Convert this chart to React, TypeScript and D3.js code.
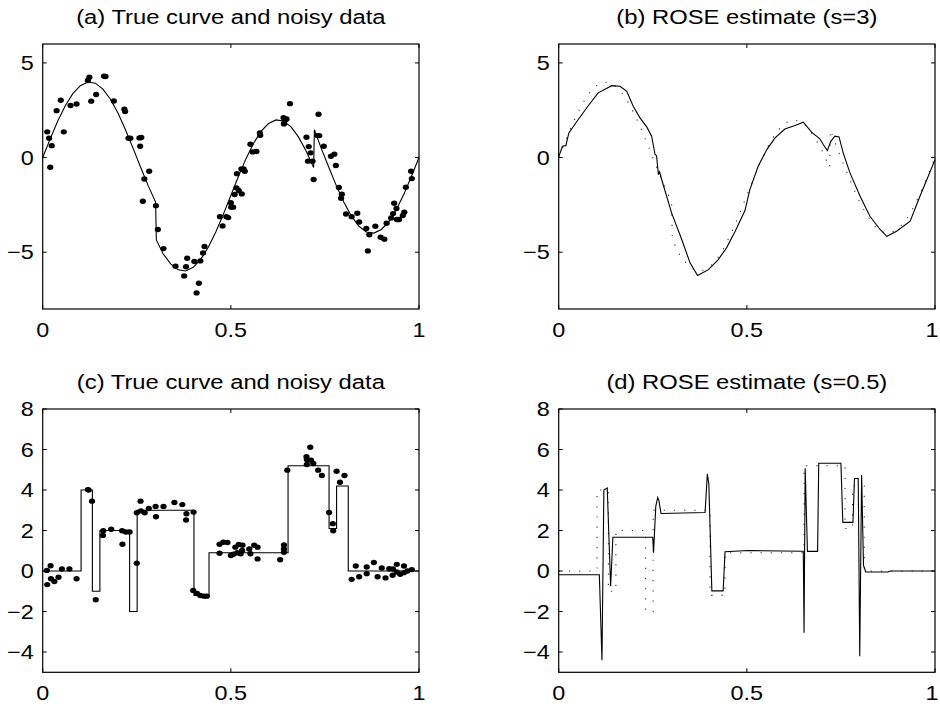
import React from "react";
import * as d3 from "d3";

// true curve (heavisine-like)
const trueAX = [0, 0.02, 0.04, 0.06, 0.08, 0.1, 0.12, 0.14, 0.16, 0.18, 0.2, 0.22, 0.24, 0.26, 0.28, 0.3, 0.302, 0.32, 0.34, 0.36, 0.38, 0.4, 0.42, 0.44, 0.46, 0.48, 0.5, 0.52, 0.54, 0.56, 0.58, 0.6, 0.62, 0.64, 0.66, 0.68, 0.7, 0.72, 0.722, 0.74, 0.76, 0.78, 0.8, 0.82, 0.84, 0.86, 0.88, 0.9, 0.92, 0.94, 0.96, 0.98, 1];
const trueAY = [0, 0.99, 1.93, 2.74, 3.38, 3.8, 3.99, 3.93, 3.62, 3.08, 2.35, 1.47, 0.5, -0.5, -1.47, -2.35, -4.35, -5.08, -5.62, -5.93, -5.99, -5.8, -5.38, -4.74, -3.93, -3.0, -2.0, -1.0, -0.07, 0.74, 1.38, 1.8, 1.99, 1.93, 1.62, 1.08, 0.35, -0.53, 1.47, 0.5, -0.5, -1.47, -2.35, -3.08, -3.62, -3.93, -3.99, -3.8, -3.38, -2.74, -1.93, -0.99, 0];

// noisy data, panel (a)
const noisyAX = [0.012, 0.017, 0.024, 0.020, 0.037, 0.048, 0.056, 0.074, 0.090, 0.124, 0.120, 0.129, 0.142, 0.163, 0.167, 0.189, 0.217, 0.219, 0.228, 0.233, 0.257, 0.262, 0.259, 0.270, 0.283, 0.266, 0.301, 0.306, 0.321, 0.353, 0.376, 0.381, 0.384, 0.403, 0.409, 0.415, 0.419, 0.426, 0.430, 0.471, 0.478, 0.488, 0.493, 0.500, 0.501, 0.506, 0.510, 0.516, 0.515, 0.521, 0.529, 0.528, 0.534, 0.537, 0.552, 0.558, 0.568, 0.577, 0.578, 0.640, 0.643, 0.641, 0.648, 0.657, 0.701, 0.707, 0.712, 0.705, 0.717, 0.720, 0.730, 0.733, 0.735, 0.747, 0.766, 0.775, 0.779, 0.787, 0.795, 0.793, 0.806, 0.821, 0.836, 0.841, 0.860, 0.868, 0.884, 0.864, 0.898, 0.908, 0.914, 0.926, 0.934, 0.940, 0.931, 0.941, 0.947, 0.957, 0.961, 0.965, 0.979, 0.981];
const noisyAY = [1.36, 1.02, 0.63, -0.51, 2.48, 3.03, 1.36, 2.75, 2.83, 4.24, 4.07, 2.98, 3.33, 4.30, 4.28, 2.99, 2.55, 2.43, 1.02, 1.02, 1.04, 1.06, 0.60, -1.13, -0.72, -2.31, -2.54, -3.80, -4.81, -5.74, -6.25, -5.77, -5.32, -5.49, -7.15, -6.64, -5.46, -5.04, -4.70, -3.12, -3.61, -3.12, -3.17, -2.39, -2.62, -2.62, -1.95, -0.85, -1.60, -1.74, -1.92, -0.60, -0.60, -0.72, 0.70, 0.30, 0.32, 1.30, 1.18, 2.11, 1.94, 1.78, 2.04, 2.85, 1.07, 0.58, 0.25, -0.19, -0.19, -1.16, 1.16, 2.29, 1.16, 0.60, 0.07, 0.18, -0.42, -1.58, -1.94, -2.15, -2.98, -3.12, -2.94, -3.40, -3.75, -4.08, -3.63, -4.93, -4.21, -4.31, -3.47, -3.19, -2.41, -2.69, -2.96, -3.27, -3.27, -3.06, -2.89, -1.57, -0.72, -1.11];

// ROSE estimate s=3, panel (b)
const roseBX = [0, 0.01, 0.019, 0.027, 0.052, 0.079, 0.105, 0.141, 0.163, 0.181, 0.198, 0.216, 0.234, 0.247, 0.256, 0.260, 0.265, 0.268, 0.275, 0.300, 0.327, 0.349, 0.369, 0.398, 0.424, 0.446, 0.469, 0.495, 0.508, 0.530, 0.553, 0.575, 0.601, 0.628, 0.650, 0.672, 0.694, 0.703, 0.714, 0.723, 0.734, 0.745, 0.756, 0.774, 0.801, 0.827, 0.854, 0.872, 0.898, 0.934, 0.960, 0.982, 1];
const roseBY = [0.04, 0.6, 0.63, 1.3, 2.01, 2.75, 3.42, 3.8, 3.77, 3.5, 2.71, 2.1, 1.62, 1.13, 0.16, 0.1, -0.9, -0.75, -1.25, -2.92, -4.33, -5.56, -6.23, -5.92, -5.39, -4.77, -3.89, -2.8, -1.69, -0.46, 0.42, 1.04, 1.51, 1.69, 1.87, 1.34, 0.99, 0.69, 0.37, 0.86, 1.13, 1.09, 0.25, -0.81, -2.04, -3.1, -3.8, -4.16, -3.89, -3.36, -2.04, -0.99, -0.11];

// true curve (blocks-like), panels (c) and (d)
const blockEdges = [0, 0.102, 0.132, 0.152, 0.231, 0.251, 0.402, 0.442, 0.652, 0.761, 0.781, 0.812, 1];
const blockLevels = [0, 4, -1, 2, -2, 3, -1.2, 0.9, 5.2, 2.1, 4.2, 0, 0];

// noisy data, panel (c)
const noisyCX = [0.011, 0.012, 0.021, 0.022, 0.031, 0.042, 0.051, 0.071, 0.090, 0.120, 0.122, 0.131, 0.141, 0.161, 0.160, 0.182, 0.211, 0.212, 0.221, 0.231, 0.250, 0.250, 0.260, 0.261, 0.271, 0.282, 0.300, 0.301, 0.321, 0.350, 0.371, 0.382, 0.381, 0.401, 0.400, 0.410, 0.419, 0.429, 0.436, 0.470, 0.470, 0.480, 0.491, 0.500, 0.507, 0.512, 0.517, 0.521, 0.531, 0.530, 0.526, 0.549, 0.552, 0.562, 0.571, 0.571, 0.631, 0.641, 0.641, 0.641, 0.650, 0.701, 0.702, 0.711, 0.713, 0.719, 0.702, 0.732, 0.742, 0.761, 0.771, 0.772, 0.781, 0.790, 0.802, 0.821, 0.832, 0.841, 0.861, 0.861, 0.880, 0.890, 0.901, 0.911, 0.921, 0.930, 0.931, 0.941, 0.941, 0.950, 0.960, 0.960, 0.969, 0.981];
const noisyCY = [0.03, -0.67, 0.26, -0.38, -0.52, -0.31, 0.10, 0.10, -0.38, 4.02, 4.0, 3.45, -1.42, 1.99, 1.76, 2.06, 1.99, 1.32, 1.93, 1.93, 0.39, 2.88, 3.45, 2.97, 2.88, 3.09, 3.19, 2.68, 3.19, 3.38, 3.28, 2.83, 2.52, 2.91, -0.96, -1.11, -1.21, -1.24, -1.24, 1.32, 0.88, 1.42, 1.41, 0.77, 0.83, 1.18, 0.90, 1.31, 1.27, 1.01, 0.85, 1.09, 0.85, 1.27, 1.18, 0.60, 0.56, 1.29, 1.09, 0.93, 4.98, 5.64, 5.51, 6.11, 5.47, 5.31, 5.26, 4.98, 4.72, 2.89, 2.34, 1.99, 4.93, 4.38, 4.72, -0.41, 0.25, -0.28, 0.20, -0.13, 0.42, -0.28, 0.15, -0.34, 0.11, -0.21, 0.10, 0.33, -0.05, -0.16, 0.25, -0.08, 0.0, 0.07];

// ROSE estimate s=0.5, panel (d)
const roseDX = [0, 0.108, 0.115, 0.120, 0.129, 0.138, 0.144, 0.250, 0.252, 0.258, 0.263, 0.266, 0.272, 0.389, 0.395, 0.399, 0.407, 0.437, 0.442, 0.504, 0.650, 0.652, 0.655, 0.661, 0.688, 0.691, 0.750, 0.755, 0.782, 0.786, 0.796, 0.800, 0.805, 0.810, 0.816, 0.874, 0.882, 1];
const roseDY = [-0.18, -0.18, -4.41, 4.0, 4.1, -0.75, 1.67, 1.67, 0.9, 3.2, 3.63, 3.5, 2.84, 2.89, 4.8, 4.3, -0.98, -0.98, 0.95, 1.01, 0.98, -3.05, 5.08, 0.97, 0.97, 5.32, 5.32, 2.4, 2.4, 4.57, 4.57, -4.21, 4.74, 0.28, -0.05, -0.05, 0, 0];

const topTicks = [-5, 0, 5];
const bottomTicks = [-4, -2, 0, 2, 4, 6, 8];
const xTicks = [0, 0.5, 1];

const W = 940;
const H = 707;
const FONT = "'Liberation Sans', Arial, Helvetica, sans-serif";
const SX = 1.17; // the reference text is a bit wider than Arial
const SX_TITLE = 1.19;
const TICK = 4;

type Series = { xs: number[]; ys: number[]; dotted?: boolean; step?: boolean };

const Panel = ({ title, box, yDomain, yTicks, lines, dots }: any) => {
  const x = d3.scaleLinear().domain([0, 1]).range([box.left, box.right]);
  const y = d3.scaleLinear().domain(yDomain).range([box.bottom, box.top]);

  const path = (s: Series) =>
    d3
      .line<number>()
      .x((_, i) => x(s.xs[i]))
      .y((d) => y(d))
      .curve(s.step ? d3.curveStepAfter : d3.curveLinear)(s.ys) || "";

  const cx = (box.left + box.right) / 2;

  return (
    <g>
      <text
        transform={`translate(${cx},${box.top - 20}) scale(${SX_TITLE},1)`}
        textAnchor="middle"
        fontSize={20}
        fontFamily={FONT}
      >
        {title}
      </text>

      {lines.map((s: Series, i: number) => (
        <path
          key={i}
          d={path(s)}
          fill="none"
          stroke={s.dotted ? "#333" : "#000"}
          strokeWidth={1.1}
          strokeDasharray={s.dotted ? "1.2 9" : undefined}
        />
      ))}

      {dots &&
        dots.xs.map((v: number, i: number) => (
          <ellipse key={i} cx={x(v)} cy={y(dots.ys[i])} rx={3.1} ry={2.7} fill="#000" />
        ))}

      <rect
        x={box.left}
        y={box.top}
        width={box.right - box.left}
        height={box.bottom - box.top}
        fill="none"
        stroke="#000"
        strokeWidth={1.2}
      />

      {xTicks.map((t) => (
        <g key={"x" + t}>
          <line x1={x(t)} x2={x(t)} y1={box.bottom} y2={box.bottom - TICK} stroke="#000" />
          <line x1={x(t)} x2={x(t)} y1={box.top} y2={box.top + TICK} stroke="#000" />
          <text
            transform={`translate(${Math.min(x(t), W - 8)},${box.bottom + 28}) scale(${SX},1)`}
            textAnchor="middle"
            fontSize={20}
            fontFamily={FONT}
          >
            {d3.format("~g")(t)}
          </text>
        </g>
      ))}

      {yTicks.map((t: number) => (
        <g key={"y" + t}>
          <line x1={box.left} x2={box.left + TICK} y1={y(t)} y2={y(t)} stroke="#000" />
          <line x1={box.right} x2={box.right - TICK} y1={y(t)} y2={y(t)} stroke="#000" />
          <text
            transform={`translate(${box.left - 9},${y(t) + 7}) scale(${SX},1)`}
            textAnchor="end"
            fontSize={20}
            fontFamily={FONT}
          >
            {t < 0 ? "\u2212" + Math.abs(t) : String(t)}
          </text>
        </g>
      ))}
    </g>
  );
};

export default function App() {
  const boxA = { left: 42.7, right: 419, top: 44, bottom: 309 };
  const boxB = { left: 558.7, right: 935, top: 44, bottom: 309 };
  const boxC = { left: 42.7, right: 419, top: 409, bottom: 672.3 };
  const boxD = { left: 558.7, right: 935, top: 409, bottom: 672.3 };

  const trueA = { xs: trueAX, ys: trueAY };
  const blocks = { xs: blockEdges, ys: blockLevels, step: true };

  return (
    <svg
      width={W}
      height={H}
      style={{ position: "absolute", left: 0, top: 0, background: "#fff" }}
    >
      <rect width={W} height={H} fill="#fff" />
      <Panel
        title="(a) True curve and noisy data"
        box={boxA}
        yDomain={[-8, 6]}
        yTicks={topTicks}
        lines={[trueA]}
        dots={{ xs: noisyAX, ys: noisyAY }}
      />
      <Panel
        title="(b) ROSE estimate (s=3)"
        box={boxB}
        yDomain={[-8, 6]}
        yTicks={topTicks}
        lines={[{ ...trueA, dotted: true }, { xs: roseBX, ys: roseBY }]}
      />
      <Panel
        title="(c) True curve and noisy data"
        box={boxC}
        yDomain={[-5, 8]}
        yTicks={bottomTicks}
        lines={[blocks]}
        dots={{ xs: noisyCX, ys: noisyCY }}
      />
      <Panel
        title="(d) ROSE estimate (s=0.5)"
        box={boxD}
        yDomain={[-5, 8]}
        yTicks={bottomTicks}
        lines={[{ ...blocks, dotted: true }, { xs: roseDX, ys: roseDY }]}
      />
    </svg>
  );
}
